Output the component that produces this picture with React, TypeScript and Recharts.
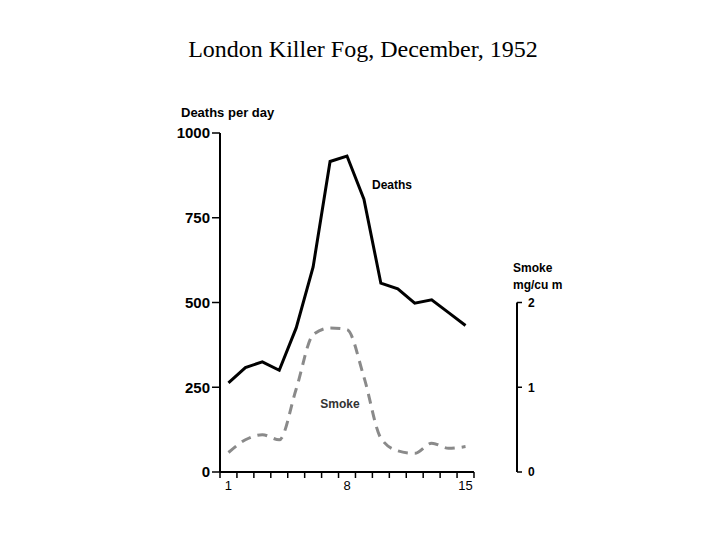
import { LineChart, Line, XAxis, YAxis, ReferenceLine, ReferenceDot } from 'recharts';

const days = [1, 2, 3, 4, 5, 6, 7, 8, 9, 10, 11, 12, 13, 14, 15];
const deaths = [263, 308, 325, 300, 425, 605, 916, 932, 805, 557, 540, 498, 508, 470, 432];
const smoke = [0.23, 0.38, 0.44, 0.38, 0.98, 1.62, 1.7, 1.68, 1.12, 0.4, 0.25, 0.22, 0.34, 0.28, 0.3];
const deathTicks = [0, 250, 500, 750, 1000];
const smokeTicks = [0, 1, 2];
const dayLabels = [1, 8, 15];
const dayEdges = [0.5, 1.5, 2.5, 3.5, 4.5, 5.5, 6.5, 7.5, 8.5, 9.5, 10.5, 11.5, 12.5, 13.5, 14.5, 15.5];

const data = days.map((day, i) => ({ day, deaths: deaths[i], smoke: smoke[i] }));

// x domain runs past day 15 so the smoke scale can sit off to the right
const X_MAX = 18.04;
const sans = "'Liberation Sans', Arial, sans-serif";

export default function App() {
  return (
    <div style={{ position: 'absolute', left: 0, top: 0, width: 720, height: 540, background: '#fff' }}>
      <div
        style={{
          position: 'absolute',
          top: 36,
          left: 3,
          width: 720,
          textAlign: 'center',
          fontFamily: "'Liberation Serif', 'Times New Roman', serif",
          fontSize: 24,
        }}
      >
        London Killer Fog, December, 1952
      </div>
      <LineChart
        width={720}
        height={540}
        data={data}
        margin={{ top: 133, right: 163, bottom: 40, left: 160 }}
        style={{ position: 'absolute', left: 0, top: 0 }}
      >
        <XAxis
          dataKey="day"
          type="number"
          domain={[0.5, X_MAX]}
          ticks={dayEdges}
          axisLine={false}
          tickLine={{ stroke: '#000', strokeWidth: 1.5 }}
          tickSize={6}
          tickFormatter={() => ''}
          height={8}
        />
        <XAxis
          xAxisId="labels"
          dataKey="day"
          type="number"
          domain={[0.5, X_MAX]}
          ticks={dayLabels}
          axisLine={false}
          tickLine={false}
          tickSize={0}
          tickMargin={1}
          height={20}
          tick={{ fill: '#000', fontSize: 13, fontFamily: sans }}
        />
        <YAxis
          domain={[0, 1000]}
          ticks={deathTicks}
          width={60}
          axisLine={{ stroke: '#000', strokeWidth: 2 }}
          tickLine={{ stroke: '#000', strokeWidth: 1.5 }}
          tickSize={8}
          tick={{ fill: '#000', fontSize: 15, fontFamily: sans, fontWeight: 'bold' }}
        />
        <YAxis
          yAxisId="smoke"
          orientation="right"
          domain={[0, 4]}
          ticks={smokeTicks}
          width={40}
          axisLine={false}
          tickLine={{ stroke: '#000', strokeWidth: 1.5 }}
          tickSize={5}
          tickMargin={6}
          tick={{ fill: '#000', fontSize: 12, fontFamily: sans, fontWeight: 'bold' }}
        />
        <ReferenceLine
          segment={[{ x: 0.5, y: 0 }, { x: 15.5, y: 0 }]}
          stroke="#000"
          strokeWidth={2}
        />
        <ReferenceLine
          yAxisId="smoke"
          segment={[{ x: X_MAX, y: 0 }, { x: X_MAX, y: 2 }]}
          stroke="#000"
          strokeWidth={2}
        />
        <Line
          dataKey="smoke"
          yAxisId="smoke"
          type="monotone"
          stroke="#8a8a8a"
          strokeWidth={3}
          strokeDasharray="10 7"
          dot={false}
          isAnimationActive={false}
        />
        <Line
          dataKey="deaths"
          type="linear"
          stroke="#000"
          strokeWidth={3}
          dot={false}
          isAnimationActive={false}
        />
        <ReferenceDot
          x={10.66}
          y={847}
          r={0}
          fill="none"
          stroke="none"
          label={{ value: 'Deaths', position: 'center', fontSize: 12, fontWeight: 'bold', fontFamily: sans, fill: '#000' }}
        />
        <ReferenceDot
          x={7.59}
          y={200}
          r={0}
          fill="none"
          stroke="none"
          label={{ value: 'Smoke', position: 'center', fontSize: 12, fontWeight: 'bold', fontFamily: sans, fill: '#333' }}
        />
        <ReferenceDot
          x={0.5}
          y={1000}
          r={0}
          fill="none"
          stroke="none"
          ifOverflow="visible"
          label={(p: any) => (
            <text x={p.viewBox.x - 39} y={p.viewBox.y - 16} fontSize={13} fontWeight="bold" fontFamily={sans} fill="#000">
              Deaths per day
            </text>
          )}
        />
        <ReferenceDot
          yAxisId="smoke"
          x={X_MAX}
          y={2}
          r={0}
          fill="none"
          stroke="none"
          ifOverflow="visible"
          label={(p: any) => (
            <text x={p.viewBox.x - 4} y={p.viewBox.y - 31} fontSize={12} fontWeight="bold" fontFamily={sans} fill="#000">
              <tspan x={p.viewBox.x - 4}>Smoke</tspan>
              <tspan x={p.viewBox.x - 4} dy={17}>mg/cu m</tspan>
            </text>
          )}
        />
      </LineChart>
    </div>
  );
}
